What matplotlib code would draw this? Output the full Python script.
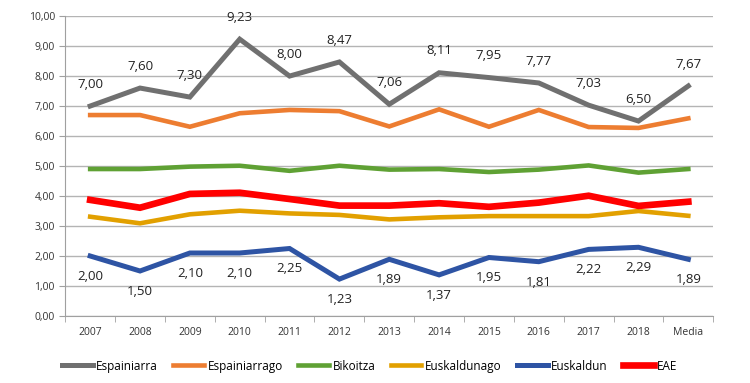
import matplotlib.pyplot as plt
from matplotlib.ticker import FuncFormatter, FixedLocator

# Data
categories = ['2007', '2008', '2009', '2010', '2011', '2012', '2013',
              '2014', '2015', '2016', '2017', '2018', 'Media']
espainiarra = [7.00, 7.60, 7.30, 9.23, 8.00, 8.47, 7.06, 8.11, 7.95, 7.77, 7.03, 6.50, 7.67]
espainiarrago = [6.70, 6.70, 6.31, 6.76, 6.87, 6.83, 6.32, 6.89, 6.31, 6.87, 6.30, 6.27, 6.59]
bikoitza = [4.90, 4.90, 4.98, 5.01, 4.84, 5.01, 4.88, 4.90, 4.80, 4.88, 5.02, 4.78, 4.90]
euskaldunago = [3.31, 3.09, 3.39, 3.51, 3.42, 3.37, 3.22, 3.29, 3.33, 3.33, 3.33, 3.50, 3.34]
euskaldun = [2.00, 1.50, 2.10, 2.10, 2.25, 1.23, 1.89, 1.37, 1.95, 1.81, 2.22, 2.29, 1.89]
eae = [3.87, 3.61, 4.07, 4.11, 3.90, 3.68, 3.68, 3.76, 3.64, 3.78, 4.01, 3.67, 3.81]

plt.rcParams['font.family'] = ['Open Sans', 'DejaVu Sans']

fig = plt.figure(figsize=(7.5, 3.83), dpi=100)
ax = fig.add_axes([0.087, 0.175, 0.864, 0.783])
x = list(range(len(categories)))

series = [
    ('Espainiarra', espainiarra, '#707070', 3.6),
    ('Espainiarrago', espainiarrago, '#ED7D31', 3.3),
    ('Bikoitza', bikoitza, '#5FA134', 3.3),
    ('Euskaldunago', euskaldunago, '#E2A000', 3.3),
    ('Euskaldun', euskaldun, '#2E54A4', 3.6),
    ('EAE', eae, '#FF0000', 4.8),
]
for name, vals, color, lw in series:
    ax.plot(x, vals, color=color, lw=lw, label=name, solid_joinstyle='miter', zorder=3)

fmt = lambda v: f'{v:.2f}'.replace('.', ',')

# Data labels
for xi, v in zip(x, espainiarra):
    ax.annotate(fmt(v), (xi, v), xytext=(0, 11), textcoords='offset points',
                ha='center', va='bottom', fontsize=9.5, color='#222222')
for xi, v in zip(x, euskaldun):
    ax.annotate(fmt(v), (xi, v), xytext=(0, -10), textcoords='offset points',
                ha='center', va='top', fontsize=9.5, color='#222222')

ax.set_xlim(-0.5, len(categories) - 0.5)
ax.set_ylim(0, 10)
ax.set_yticks(range(0, 11))
ax.yaxis.set_major_formatter(FuncFormatter(lambda v, p: fmt(v)))
ax.set_xticks(x)
ax.set_xticklabels(categories)
ax.xaxis.set_minor_locator(FixedLocator([i - 0.5 for i in range(len(categories) + 1)]))
ax.tick_params(axis='x', which='major', length=0, labelsize=7.5, pad=8, colors='#333333')
ax.tick_params(axis='x', which='minor', length=4, color='#a0a0a0')
ax.tick_params(axis='y', length=4, color='#a0a0a0', labelsize=7.5, colors='#333333')

ax.grid(axis='y', color='#b4b4b4', lw=1)
ax.set_axisbelow(True)
for s in ['top', 'right']:
    ax.spines[s].set_visible(False)
ax.spines['left'].set_color('#a0a0a0')
ax.spines['bottom'].set_color('#a0a0a0')

ax.legend(loc='upper center', bbox_to_anchor=(0.47, -0.11), ncol=6, frameon=False,
          fontsize=8.5, handlelength=2.6, handletextpad=0.3, columnspacing=1.3)

fig.savefig('out.png', dpi=100)
